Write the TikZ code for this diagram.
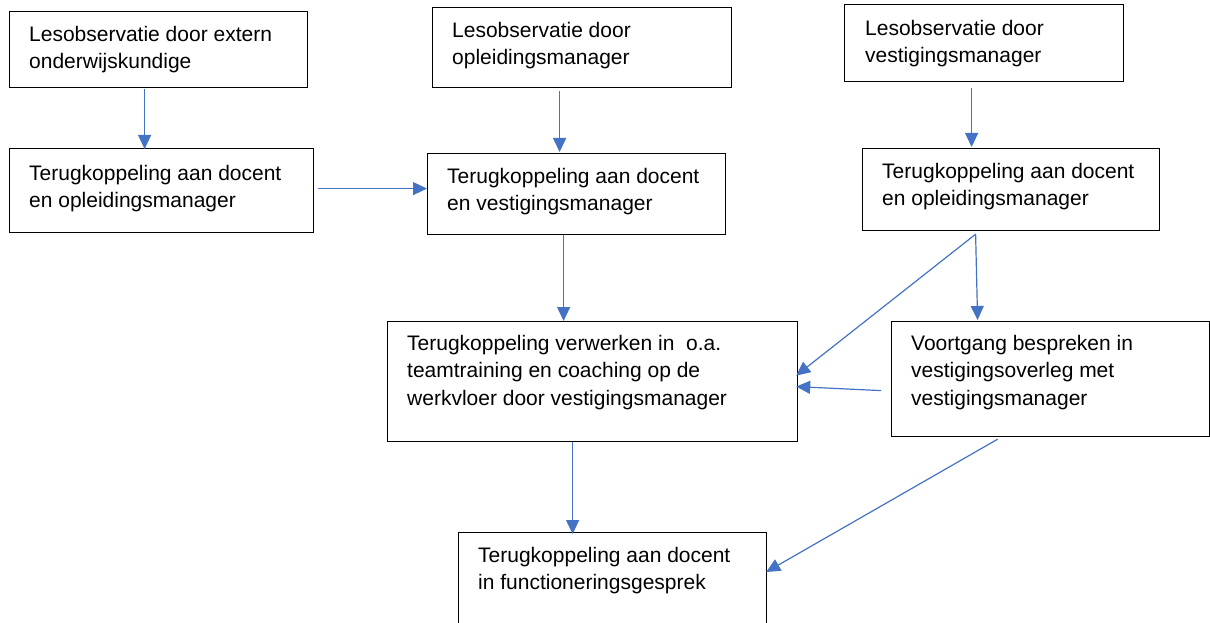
\documentclass[tikz,border=0pt]{standalone}
\usepackage{fontspec}
\setmainfont{Liberation Sans}
\usetikzlibrary{arrows.meta}
\definecolor{arrowblue}{RGB}{68,114,196}
\begin{document}
\begin{tikzpicture}[x=1pt,y=-1pt,
  box/.style={draw=black, line width=1.2pt, inner sep=0pt, anchor=north west},
  txt/.style={anchor=north west, inner sep=0pt, align=left, font=\fontsize{21}{27.5}\selectfont},
  conn/.style={draw=arrowblue, line width=1.2pt, -{Triangle[length=14pt,width=13pt]}}]
\useasboundingbox (0,0) rectangle (1210,623);
% boxes
\node[box, minimum width=298pt, minimum height=76pt]  (A) at (9,11) {};
\node[box, minimum width=299pt, minimum height=80pt]  (B) at (432,7) {};
\node[box, minimum width=279pt, minimum height=77pt]  (C) at (844,4) {};
\node[box, minimum width=304pt, minimum height=84pt]  (D) at (9,148) {};
\node[box, minimum width=298pt, minimum height=81pt]  (E) at (427,153) {};
\node[box, minimum width=297pt, minimum height=82pt]  (F) at (862,148) {};
\node[box, minimum width=410pt, minimum height=120pt] (G) at (387,321) {};
\node[box, minimum width=318pt, minimum height=115pt] (H) at (891,321) {};
\node[box, minimum width=308pt, minimum height=118pt] (I) at (458,532) {};
% texts
\node[txt] (At) at (29,25.8)  {Lesobservatie door extern\\onderwijskundige};
\node[txt] (Bt) at (452,21.8) {Lesobservatie door\\opleidingsmanager};
\node[txt] (Ct) at (865,19.8) {Lesobservatie door\\vestigingsmanager};
\node[txt] (Dt) at (29,164.8) {Terugkoppeling aan docent\\en opleidingsmanager};
\node[txt] (Et) at (447,167.8) {Terugkoppeling aan docent\\en vestigingsmanager};
\node[txt] (Ft) at (882,162.8) {Terugkoppeling aan docent\\en opleidingsmanager};
\node[txt] (Gt) at (407,334.8) {Terugkoppeling verwerken in\ \ o.a.\\teamtraining en coaching op de\\werkvloer door vestigingsmanager};
\node[txt] (Ht) at (911,334.8) {Voortgang bespreken in\\vestigingsoverleg met\\vestigingsmanager};
\node[txt] (It) at (478,546.8) {Terugkoppeling aan docent\\in functioneringsgesprek};
% connectors
\draw[conn] ([xshift=-14pt,yshift=-1pt]A.south) -- ([xshift=-17pt,yshift=-1pt]D.north);
\draw[conn] ([xshift=-22.5pt,yshift=-3pt]B.south) -- ([xshift=-17pt,yshift=1pt]E.north);
\draw[conn] ([xshift=-12.5pt,yshift=-6pt]C.south) -- ([xshift=-39.5pt,yshift=1pt]F.north);
\draw[conn] ([xshift=4pt,yshift=2pt]D.east) -- ([yshift=5.5pt]E.west);
\draw[conn] ([xshift=-13pt]E.south) -- ([xshift=-29pt]G.north);
\draw[conn] ([xshift=-35.5pt,yshift=-3pt]F.south) -- ([xshift=-2pt,yshift=6pt]G.east);
\draw[conn] ([xshift=-35.5pt,yshift=-3pt]F.south) -- ([xshift=-73pt,yshift=1pt]H.north);
\draw[conn] ([xshift=-10pt,yshift=-11.5pt]H.west) -- ([xshift=-2pt,yshift=-5pt]G.east);
\draw[conn] ([xshift=-20pt]G.south) -- ([xshift=-40pt,yshift=-2pt]I.north);
\draw[conn] ([xshift=-53pt,yshift=-2pt]H.south) -- ([xshift=-1pt,yshift=-40pt]I.north east);
\end{tikzpicture}
\end{document}
